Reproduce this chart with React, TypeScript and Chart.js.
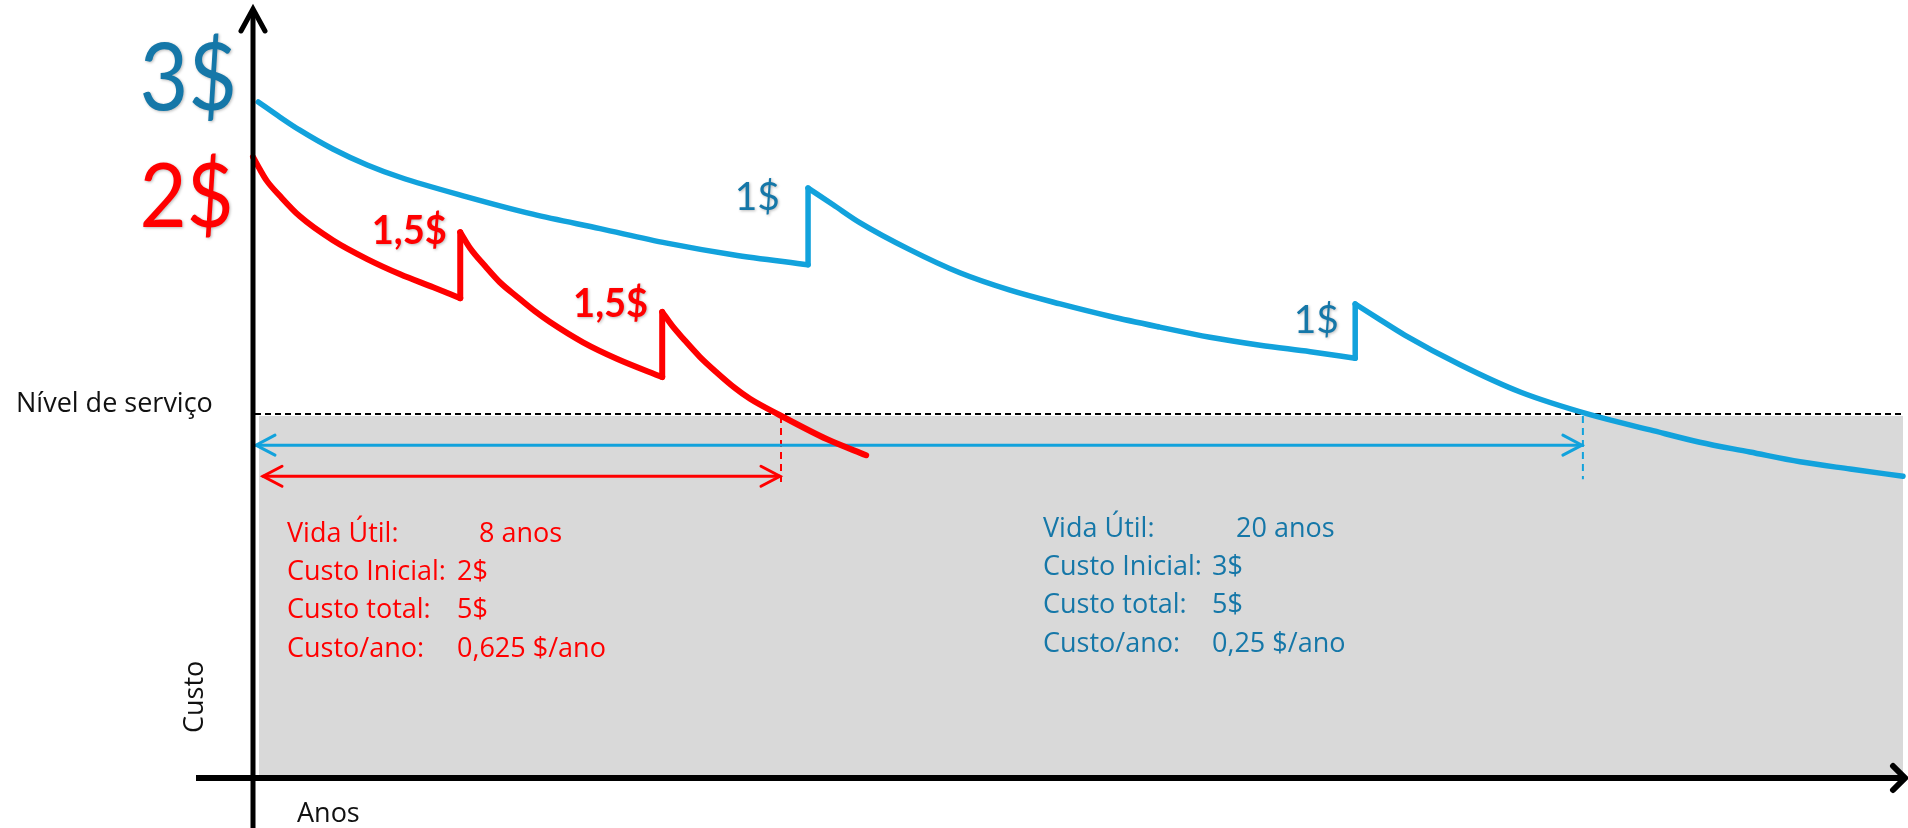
import React, { useEffect, useRef } from "react";
import { Chart, registerables } from "chart.js";

Chart.register(...registerables);

// ---------------- data (x: anos, y: índice de condição) ----------------
const serviceLevel = 50;
const redLife = 8;
const blueLife = 20.15;
const redArrowLevel = 41.4;
const blueArrowLevel = 45.7;
const redDashBottom = 40.6;
const blueDashBottom = 41.0;

const redSeg1: [number, number][] = [
  [0, 85.5], [0.11, 83.7], [0.21, 82.2], [0.41, 80.1], [0.71, 77.3], [1.21, 74.0], [1.73, 71.4], [2.23, 69.3],
  [2.73, 67.5], [3.14, 66.0],
];
const redSeg2: [number, number][] = [
  [3.14, 75.1], [3.29, 72.9], [3.52, 70.4], [3.74, 68.2], [4.0, 66.2], [4.27, 64.2], [4.5, 62.7], [5.0, 59.9],
  [5.52, 57.6], [6.2, 55.1],
];
const redSeg3: [number, number][] = [
  [6.2, 64.1], [6.35, 62.2], [6.52, 60.4], [6.77, 57.9], [7.03, 55.7], [7.3, 53.6], [7.53, 52.1], [7.97, 49.9],
  [8.7, 46.5], [9.29, 44.3],
];
const blueSeg1: [number, number][] = [
  [0.08, 93.1], [0.41, 91.0], [0.71, 89.2], [1.21, 86.6], [1.73, 84.4], [2.23, 82.7], [3.24, 80.0], [4.24, 77.6],
  [5.26, 75.6], [6.27, 73.6], [7.27, 72.0], [8.41, 70.6],
];
const blueSeg2: [number, number][] = [
  [8.41, 81.2], [8.79, 78.9], [9.2, 76.4], [9.95, 72.7], [10.71, 69.5], [11.47, 67.1], [12.23, 65.2], [12.98, 63.5],
  [13.74, 62.0], [14.5, 60.6], [15.26, 59.5], [16.02, 58.6], [16.7, 57.7],
];
const blueSeg3: [number, number][] = [
  [16.7, 65.2], [17.08, 63.0], [17.45, 60.9], [18.29, 56.8], [19.21, 53.0], [20.26, 49.9], [21.17, 47.8],
  [21.92, 46.1], [22.68, 44.75], [23.44, 43.4], [24.2, 42.4], [25.0, 41.4],
];

const redJumpLabels = ["1,5$", "1,5$"];
const redJumpLabelX = [2.92, 5.97];
const redJumpLabelY = [73.5, 63.4];
const blueJumpLabels = ["1$", "1$"];
const blueJumpLabelX = [7.95, 16.42];
const blueJumpLabelY = [78.2, 61.2];

const infoLabels = ["Vida Útil:", "Custo Inicial:", "Custo total:", "Custo/ano:"];
const redInfoValues = ["8 anos", "2$", "5$", "0,625 $/ano"];
const blueInfoValues = ["20 anos", "3$", "5$", "0,25 $/ano"];

const redStartLabel = "2$";
const blueStartLabel = "3$";
const serviceLabel = "Nível de serviço";
const yTitle = "Custo";
const xTitle = "Anos";

// ---------------- styles ----------------
const RED = "#ff0000";
const BLUE = "#12a2dc";
const BLUE_TEXT = "#1577a8";
const GRAY = "#d9d9d9";
const INFO_FONT = '27px "Open Sans"';

function segmentsToDatasets(segs: [number, number][][], color: string, width: number) {
  const out: any[] = [];
  segs.forEach((seg, i) => {
    out.push({
      data: seg.map(([x, y]) => ({ x, y })),
      borderColor: color,
      borderWidth: width,
      pointRadius: 0,
      cubicInterpolationMode: "monotone",
      tension: 0.4,
      fill: false,
      clip: false,
      borderCapStyle: "round",
      borderJoinStyle: "round",
    });
    if (i < segs.length - 1) {
      const a = seg[seg.length - 1];
      const b = segs[i + 1][0];
      out.push({
        data: [{ x: a[0], y: a[1] }, { x: b[0], y: b[1] }],
        borderColor: color,
        borderWidth: width,
        pointRadius: 0,
        tension: 0,
        fill: false,
        clip: false,
        borderCapStyle: "round",
        borderJoinStyle: "miter",
      });
    }
  });
  return out;
}

function seg(ctx: CanvasRenderingContext2D, x1: number, y1: number, x2: number, y2: number) {
  ctx.beginPath();
  ctx.moveTo(x1, y1);
  ctx.lineTo(x2, y2);
  ctx.stroke();
}

function chevron(ctx: CanvasRenderingContext2D, tx: number, ty: number, dx: number, dy: number, len: number, half: number) {
  const px = -dy, py = dx;
  ctx.beginPath();
  ctx.moveTo(tx - dx * len + px * half, ty - dy * len + py * half);
  ctx.lineTo(tx, ty);
  ctx.lineTo(tx - dx * len - px * half, ty - dy * len - py * half);
  ctx.stroke();
}

function fitText(ctx: CanvasRenderingContext2D, text: string, inkLeft: number, baseline: number, inkWidth: number, font: string, color: string, anchorRight = false) {
  ctx.font = font;
  ctx.textAlign = "left";
  ctx.textBaseline = "alphabetic";
  const m = ctx.measureText(text);
  const w = m.actualBoundingBoxLeft + m.actualBoundingBoxRight;
  const s = inkWidth / w;
  const left = anchorRight ? inkLeft - inkWidth : inkLeft;
  ctx.save();
  ctx.translate(left, baseline);
  ctx.scale(s, 1);
  ctx.fillStyle = color;
  ctx.fillText(text, m.actualBoundingBoxLeft, 0);
  ctx.restore();
}

const decor = {
  id: "decor",
  beforeDatasetsDraw(chart: any) {
    const { ctx, chartArea: a, scales } = chart;
    const x = scales.x, y = scales.y;
    const ySL = y.getPixelForValue(serviceLevel);
    ctx.save();
    ctx.fillStyle = GRAY;
    ctx.fillRect(a.left + 6, ySL + 2, a.right - a.left - 6, a.bottom - 1 - (ySL + 2));

    ctx.strokeStyle = "#000";
    ctx.lineWidth = 2;
    ctx.setLineDash([6, 4]);
    seg(ctx, a.left + 2, ySL, a.right, ySL);

    ctx.lineWidth = 2;
    ctx.setLineDash([7, 5]);
    ctx.strokeStyle = RED;
    const xr = x.getPixelForValue(redLife);
    seg(ctx, xr, ySL + 2, xr, y.getPixelForValue(redDashBottom));
    ctx.strokeStyle = BLUE;
    const xb = x.getPixelForValue(blueLife);
    seg(ctx, xb, ySL + 2, xb, y.getPixelForValue(blueDashBottom));
    ctx.setLineDash([]);

    ctx.lineCap = "round";
    ctx.lineJoin = "miter";
    const yBA = y.getPixelForValue(blueArrowLevel);
    ctx.strokeStyle = BLUE;
    ctx.lineWidth = 3;
    seg(ctx, a.left + 3, yBA, xb - 1, yBA);
    chevron(ctx, a.left + 3, yBA, -1, 0, 19, 10);
    chevron(ctx, xb - 1, yBA, 1, 0, 19, 10);

    const yRA = y.getPixelForValue(redArrowLevel);
    ctx.strokeStyle = RED;
    ctx.lineWidth = 3;
    seg(ctx, a.left + 10, yRA, xr - 1, yRA);
    chevron(ctx, a.left + 10, yRA, -1, 0, 19, 10);
    chevron(ctx, xr - 1, yRA, 1, 0, 19, 10);
    ctx.restore();
  },
  afterDatasetsDraw(chart: any) {
    const { ctx, chartArea: a, scales } = chart;
    const x = scales.x, y = scales.y;
    const H = chart.height, W = chart.width;
    ctx.save();

    ctx.strokeStyle = "#000";
    ctx.lineCap = "butt";
    ctx.lineWidth = 5;
    seg(ctx, a.left, 12, a.left, H);
    ctx.lineCap = "round";
    ctx.lineJoin = "miter";
    chevron(ctx, a.left, 9, 0, -1, 22, 12);
    const yAx = a.bottom + 2;
    ctx.lineWidth = 6;
    ctx.lineCap = "butt";
    seg(ctx, 196, yAx, W - 4, yAx);
    ctx.lineCap = "round";
    chevron(ctx, W - 3, yAx, 1, 0, 12, 12);

    ctx.fillStyle = "#111";
    ctx.font = '27px "Open Sans"';
    ctx.textAlign = "left";
    ctx.textBaseline = "alphabetic";
    ctx.fillText(serviceLabel, 16, 412);
    ctx.fillText(xTitle, 297, 822);
    ctx.save();
    ctx.translate(203, 733);
    ctx.rotate(-Math.PI / 2);
    ctx.fillText(yTitle, 0, 0);
    ctx.restore();

    ctx.save();
    ctx.shadowColor = "rgba(0,0,0,0.28)";
    ctx.shadowBlur = 3;
    ctx.shadowOffsetX = 1;
    ctx.shadowOffsetY = 1;
    fitText(ctx, blueStartLabel, 143, 110, 90, '94px Lato', BLUE_TEXT);
    fitText(ctx, redStartLabel, 143, 227, 87, '90px Lato', RED);

    redJumpLabels.forEach((t, i) => {
      fitText(ctx, t, x.getPixelForValue(redJumpLabelX[i]), y.getPixelForValue(redJumpLabelY[i]), 72, 'bold 40px Lato', RED, true);
    });
    blueJumpLabels.forEach((t, i) => {
      fitText(ctx, t, x.getPixelForValue(blueJumpLabelX[i]), y.getPixelForValue(blueJumpLabelY[i]), 40, '38px Lato', BLUE_TEXT, true);
    });
    ctx.restore();

    ctx.font = INFO_FONT;
    ctx.textAlign = "left";
    const redBase = [542, 580, 618, 657];
    const blueBase = [537, 575, 613, 652];
    ctx.fillStyle = RED;
    infoLabels.forEach((t, i) => {
      ctx.fillText(t, 287, redBase[i]);
      ctx.fillText(redInfoValues[i], i === 0 ? 479 : 457, redBase[i]);
    });
    ctx.fillStyle = BLUE_TEXT;
    infoLabels.forEach((t, i) => {
      ctx.fillText(t, 1043, blueBase[i]);
      ctx.fillText(blueInfoValues[i], i === 0 ? 1236 : 1212, blueBase[i]);
    });
    ctx.restore();
  },
};

export default function App() {
  const ref = useRef<HTMLCanvasElement | null>(null);
  useEffect(() => {
    document.body.style.margin = "0";
    document.body.style.overflow = "hidden";
    const canvas = ref.current!;
    const datasets = [
      ...segmentsToDatasets([redSeg1, redSeg2, redSeg3], RED, 6),
      ...segmentsToDatasets([blueSeg1, blueSeg2, blueSeg3], BLUE, 5.5),
    ];
    const chart = new Chart(canvas, {
      type: "line",
      data: { datasets },
      options: {
        animation: false,
        responsive: false,
        devicePixelRatio: 1,
        events: [],
        layout: { padding: { left: 253, right: 5, top: 8.56, bottom: 52 } },
        scales: {
          x: { type: "linear", min: 0, max: 25, display: false },
          y: { type: "linear", min: 0, max: 106, display: false },
        },
        plugins: { legend: { display: false }, tooltip: { enabled: false } },
      },
      plugins: [decor],
    } as any);
    return () => chart.destroy();
  }, []);
  return (
    <div style={{ width: 1908, height: 828, background: "#fff" }}>
      <canvas ref={ref} width={1908} height={828} style={{ display: "block", width: 1908, height: 828 }} />
    </div>
  );
}
